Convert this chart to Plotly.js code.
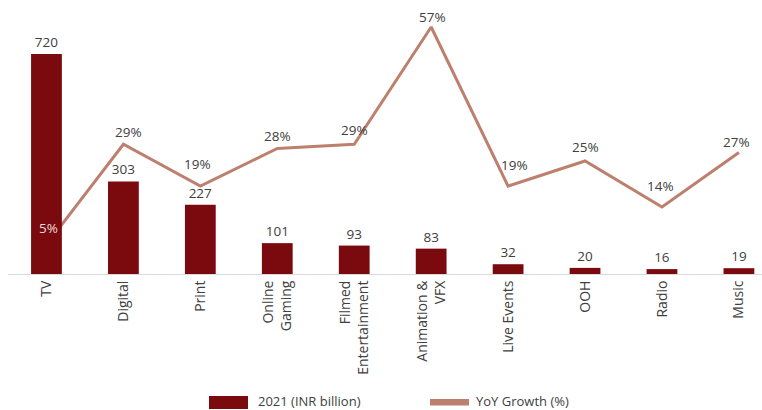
<!DOCTYPE html>
<html><head><meta charset="utf-8">
<script src="https://cdn.plot.ly/plotly-3.0.1.min.js"></script>
<style>body{margin:0;background:#fff}#c{width:762px;height:410px}</style>
</head><body><div id="c"></div>
<script>
const categories = ["TV","Digital","Print","Online<br>Gaming","Filmed<br>Entertainment","Animation &<br>VFX","Live Events","OOH","Radio","Music"];
const revenue2021 = [720,303,227,101,93,83,32,20,16,19];
const yoyGrowth = [5,29,19,28,29,57,19,25,14,27];
const seriesNames = ["2021 (INR billion)", "YoY Growth (%)"];

const barColor = "#7A0A0E";
const lineColor = "#BD806F";
const textColor = "#404040";
const font = "'Open Sans', sans-serif";
// label offsets (px) relative to each line point (styling only)
const labelShiftY = [6, 1, 11, 1, 3, -1, 10, 3, 10, 0];
const labelShiftX = [2, 5, -3, 0, 0, 1, 6, 0, -1, -2];

const lineTrace = {
  x: categories, y: yoyGrowth, type: "scatter", mode: "lines",
  name: seriesNames[1], line: {color: lineColor, width: 3},
  xaxis: "x", yaxis: "y", hoverinfo: "skip", showlegend: false
};
const barTrace = {
  x: categories, y: revenue2021, type: "bar", name: seriesNames[0],
  marker: {color: barColor}, width: 0.4,
  text: revenue2021.map(String), textposition: "outside", cliponaxis: false,
  textfont: {color: textColor, size: 13.5, family: font},
  xaxis: "x", yaxis: "y2", hoverinfo: "skip", showlegend: false
};

const annotations = categories.map((c, i) => ({
  x: c, y: yoyGrowth[i], xref: "x", yref: "y",
  text: yoyGrowth[i] + "%", showarrow: false, yanchor: "bottom",
  yshift: labelShiftY[i], xshift: labelShiftX[i],
  font: {size: 13.5, family: font, color: i === 0 ? "#F0DADA" : textColor}
}));
// custom legend
const legY = -(401 - 274) / 264;
annotations.push(
  {xref: "paper", yref: "paper", x: (256 - 8) / 754, y: legY, xanchor: "left", yanchor: "middle",
   text: seriesNames[0], showarrow: false, font: {size: 13, family: font, color: textColor}},
  {xref: "paper", yref: "paper", x: (474 - 8) / 754, y: legY, xanchor: "left", yanchor: "middle",
   text: seriesNames[1], showarrow: false, font: {size: 13, family: font, color: textColor}}
);
const shapes = [
  {type: "rect", xref: "paper", yref: "paper", x0: (209 - 8) / 754, x1: (248 - 8) / 754,
   y0: -(409 - 274) / 264, y1: -(396 - 274) / 264, fillcolor: barColor, line: {width: 0}},
  {type: "rect", xref: "paper", yref: "paper", x0: (430 - 8) / 754, x1: (469 - 8) / 754,
   y0: -(405.5 - 274) / 264, y1: -(399 - 274) / 264, fillcolor: lineColor, line: {width: 0}}
];

const layout = {
  width: 762, height: 410,
  margin: {l: 8, r: 0, t: 10, b: 136},
  paper_bgcolor: "#fff", plot_bgcolor: "#fff",
  font: {family: font, color: textColor, size: 13},
  showlegend: false,
  barmode: "group",
  xaxis: {type: "category", range: [-0.5, 9.3], tickangle: -90, showgrid: false, automargin: false,
          showline: true, linecolor: "#D9D9D9", linewidth: 1, ticks: "",
          tickfont: {size: 14, color: textColor, family: font}, fixedrange: true},
  yaxis: {range: [-2.0, 61.06], visible: false, showgrid: false, zeroline: false, automargin: false},
  yaxis2: {range: [0, 864], overlaying: "y", visible: false, showgrid: false, zeroline: false, automargin: false},
  annotations: annotations,
  shapes: shapes
};

Plotly.newPlot("c", [barTrace, lineTrace], layout, {displayModeBar: false, staticPlot: true});
</script></body></html>
